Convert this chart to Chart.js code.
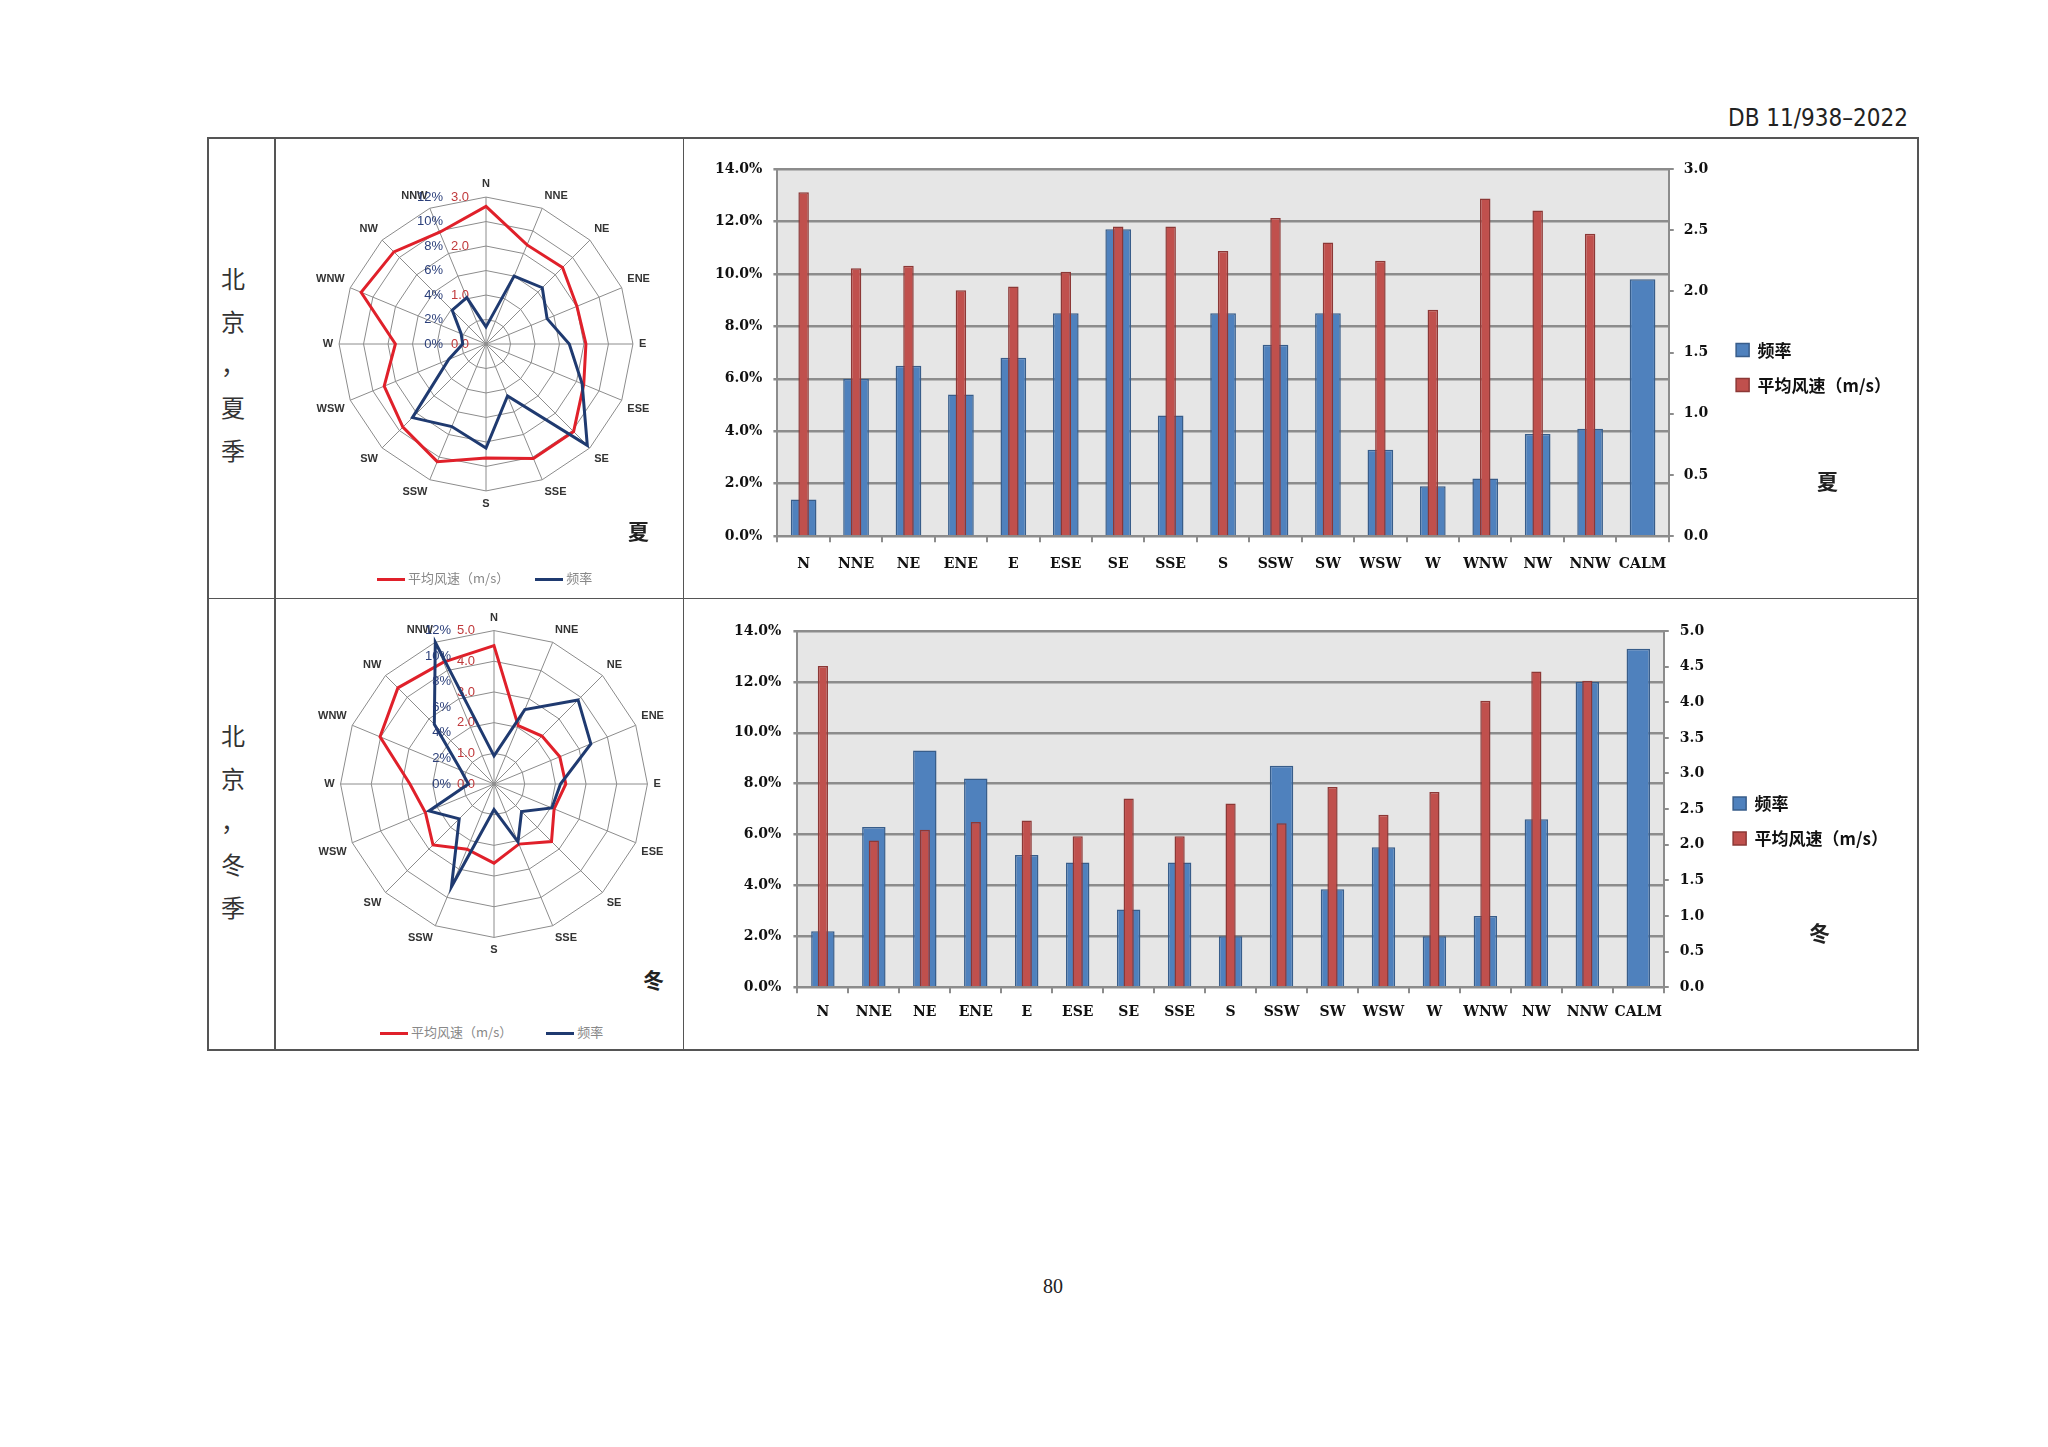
<!DOCTYPE html>
<html>
<head>
<meta charset="utf-8">
<script src="https://cdn.jsdelivr.net/npm/chart.js@4.4.0/dist/chart.umd.min.js"></script>
<style>
  body { margin: 0; width: 2048px; height: 1447px; background: #fff; position: relative; overflow: hidden; }
  .abs { position: absolute; }
  .line { position: absolute; background: #555; }
  .side { position: absolute; width: 30px; text-align: center; font: 24px 'Noto Sans CJK SC'; color: #333; line-height: 43px; }
  .season { position: absolute; font: bold 21px 'Noto Sans CJK SC'; color: #222; }
  .rleg { position: absolute; font: 13px 'Noto Sans CJK SC'; color: #888; white-space: nowrap; }
  .rleg span.sw { display: inline-block; width: 28px; height: 3px; vertical-align: middle; margin-right: 3px; }
</style>
</head>
<body>
<div class="abs" style="right:140px; top:104px; font:24px 'Liberation Sans Narrow','DejaVu Sans Condensed'; color:#222;">DB 11/938–2022</div>

<!-- table frame -->
<div class="line" style="left:207px; top:137px; width:1712px; height:2px;"></div>
<div class="line" style="left:207px; top:1049px; width:1712px; height:2px;"></div>
<div class="line" style="left:207px; top:598px; width:1712px; height:1px;"></div>
<div class="line" style="left:207px; top:137px; width:2px; height:914px;"></div>
<div class="line" style="left:274px; top:137px; width:2px; height:914px;"></div>
<div class="line" style="left:683px; top:137px; width:1px; height:914px;"></div>
<div class="line" style="left:1917px; top:137px; width:2px; height:914px;"></div>

<div class="side" style="left:218px; top:256px;">北<br>京<br>，<br>夏<br>季</div>
<div class="side" style="left:218px; top:713px;">北<br>京<br>，<br>冬<br>季</div>

<canvas id="radarSummerSpeed" class="abs" width="340" height="340" style="left:313px; top:174px;"></canvas>
<canvas id="radarSummerFreq" class="abs" width="340" height="340" style="left:313px; top:174px;"></canvas>
<canvas id="radarWinterSpeed" class="abs" width="352" height="352" style="left:315px; top:608px;"></canvas>
<canvas id="radarWinterFreq" class="abs" width="352" height="352" style="left:315px; top:608px;"></canvas>

<div class="season" style="left:628px; top:515px;">夏</div>
<div class="season" style="left:643px; top:964px;">冬</div>

<div class="rleg" style="left:377px; top:568px;"><span class="sw" style="background:#e0202a"></span>平均风速（m/s）<span class="sw" style="background:#1f3a70; margin-left:26px"></span>频率</div>
<div class="rleg" style="left:380px; top:1022px;"><span class="sw" style="background:#e0202a"></span>平均风速（m/s）<span class="sw" style="background:#1f3a70; margin-left:34px"></span>频率</div>

<canvas id="barSummer" class="abs" width="1230" height="455" style="left:686px; top:140px;"></canvas>
<canvas id="barWinter" class="abs" width="1230" height="446" style="left:686px; top:601px;"></canvas>

<div class="season" style="left:1817px; top:465px;">夏</div>
<div class="season" style="left:1809px; top:917px;">冬</div>

<div class="abs" style="left:1030px; top:1275px; width:46px; text-align:center; font:20px 'Liberation Serif'; color:#222;">80</div>

<script>
// wind directions, CALM only in the bar charts
const directions = ['N', 'NNE', 'NE', 'ENE', 'E', 'ESE', 'SE', 'SSE', 'S', 'SSW', 'SW', 'WSW', 'W', 'WNW', 'NW', 'NNW'];
const barCategories = directions.concat(['CALM']);

// summer: frequency (%) and mean wind speed (m/s)
const summerFreq = [1.4, 6.0, 6.5, 5.4, 6.8, 8.5, 11.7, 4.6, 8.5, 7.3, 8.5, 3.3, 1.9, 2.2, 3.9, 4.1, 9.8];
const summerSpeed = [2.81, 2.19, 2.21, 2.01, 2.04, 2.16, 2.53, 2.53, 2.33, 2.60, 2.40, 2.25, 1.85, 2.76, 2.66, 2.47, null];

// winter
const winterFreq = [2.2, 6.3, 9.3, 8.2, 5.2, 4.9, 3.05, 4.9, 2.0, 8.7, 3.85, 5.5, 2.0, 2.8, 6.6, 12.0, 13.3];
const winterSpeed = [4.51, 2.06, 2.21, 2.32, 2.34, 2.12, 2.65, 2.12, 2.58, 2.30, 2.81, 2.42, 2.74, 4.02, 4.43, 4.30, null];

const freqLabel = '频率';
const speedLabel = '平均风速（m/s）';

const RED_LINE = '#e0202a';
const BLUE_LINE = '#1f3a70';
const GRID = '#8c8c8c';

Chart.defaults.animation = false;
Chart.defaults.responsive = false;
Chart.defaults.devicePixelRatio = 1;

// radar tick labels sit left of the vertical axis, like the original
const tickLabelPlugin = {
    id: 'tickLabels',
    afterDatasetsDraw(chart, args, opts) {
        const s = chart.scales.r;
        const ctx = chart.ctx;
        ctx.save();
        ctx.font = opts.font;
        ctx.fillStyle = opts.color;
        ctx.textAlign = 'right';
        ctx.textBaseline = 'middle';
        s.ticks.forEach(t => {
            if (Math.abs(t.value / opts.every - Math.round(t.value / opts.every)) > 1e-6) return;
            const d = s.getDistanceFromCenterForValue(t.value);
            ctx.fillText(t.value.toFixed(opts.decimals) + opts.suffix, s.xCenter + opts.dx, s.yCenter - d);
        });
        ctx.restore();
    }
};

const plotBgPlugin = {
    id: 'plotBg',
    beforeDraw(chart, args, opts) {
        const a = chart.chartArea;
        const ctx = chart.ctx;
        ctx.save();
        ctx.fillStyle = opts.color;
        ctx.fillRect(a.left, a.top, a.right - a.left, a.bottom - a.top);
        ctx.restore();
    }
};

function createRadar(canvasId, values, color, max, step, showGrid, tickOpts) {
    const ctx = document.getElementById(canvasId).getContext('2d');
    new Chart(ctx, {
        type: 'radar',
        data: {
            labels: directions,
            datasets: [{
                data: values,
                borderColor: color,
                borderWidth: 3,
                pointRadius: 0,
                fill: false,
                tension: 0
            }]
        },
        options: {
            layout: { padding: 0 },
            plugins: {
                legend: { display: false },
                tooltip: { enabled: false },
                tickLabels: tickOpts
            },
            scales: {
                r: {
                    min: 0,
                    max: max,
                    ticks: { stepSize: step, display: false },
                    grid: { display: showGrid, color: GRID, lineWidth: 1 },
                    angleLines: { display: showGrid, color: GRID, lineWidth: 1 },
                    pointLabels: {
                        color: showGrid ? '#333' : 'rgba(0,0,0,0)',
                        padding: 6,
                        font: { family: 'Liberation Sans', size: 11, weight: 'bold' }
                    }
                }
            }
        },
        plugins: [tickLabelPlugin]
    });
}

function createBarChart(canvasId, freq, speed, speedMax, pad, tickPad, barPct, legendShift) {
    const ctx = document.getElementById(canvasId).getContext('2d');
    const axisFont = { family: 'DejaVu Serif', size: 14, weight: 'bold' };
    new Chart(ctx, {
        type: 'bar',
        data: {
            labels: barCategories,
            datasets: [{
                label: freqLabel,
                data: freq,
                yAxisID: 'y',
                order: 1,
                backgroundColor: '#4f81bd',
                borderColor: '#385d8a',
                borderWidth: 1.5,
                barPercentage: barPct,
                categoryPercentage: 1
            }, {
                label: speedLabel,
                data: speed,
                yAxisID: 'y1',
                order: 0,
                backgroundColor: '#c0504d',
                borderColor: '#8c3836',
                borderWidth: 1.5,
                barPercentage: 0.2,
                categoryPercentage: 1
            }]
        },
        options: {
            grouped: false,
            layout: { padding: pad },
            plugins: {
                plotBg: { color: '#e6e6e6' },
                tooltip: { enabled: false },
                legend: {
                    position: 'right',
                    fullSize: false,
                    // empty title only nudges the legend block down a little
                    title: { display: true, text: ' ', font: { size: 10 }, padding: legendShift },
                    labels: {
                        boxWidth: 13,
                        boxHeight: 13,
                        padding: 18,
                        color: '#111',
                        font: { family: 'Noto Sans CJK SC', size: 17, weight: 'bold' },
                        sort: (a, b) => a.datasetIndex - b.datasetIndex
                    }
                }
            },
            scales: {
                x: {
                    grid: { drawOnChartArea: false, color: GRID, lineWidth: 2, tickLength: 6 },
                    border: { color: GRID, width: 2 },
                    ticks: {
                        padding: tickPad.x,
                        color: '#111',
                        autoSkip: false,
                        maxRotation: 0,
                        font: axisFont
                    }
                },
                y: {
                    position: 'left',
                    min: 0,
                    max: 14,
                    grid: { color: GRID, lineWidth: 2.5, tickLength: 4 },
                    border: { color: GRID, width: 2 },
                    ticks: {
                        stepSize: 2,
                        padding: tickPad.y,
                        color: '#111',
                        font: axisFont,
                        callback: v => v.toFixed(1) + '%'
                    }
                },
                y1: {
                    position: 'right',
                    min: 0,
                    max: speedMax,
                    grid: { drawOnChartArea: false, color: GRID, lineWidth: 2, tickLength: 5 },
                    border: { color: GRID, width: 2 },
                    ticks: {
                        stepSize: 0.5,
                        padding: tickPad.y1,
                        color: '#111',
                        font: axisFont,
                        callback: v => v.toFixed(1)
                    }
                }
            }
        },
        plugins: [plotBgPlugin]
    });
}

const freqTicks = { font: '13px Liberation Sans', color: '#2b3f7a', dx: -43, every: 2, decimals: 0, suffix: '%' };

createRadar('radarSummerSpeed', summerSpeed.slice(0, 16), RED_LINE, 3, 0.5, true,
    { font: '13px Liberation Sans', color: '#c0393b', dx: -17, every: 1, decimals: 1, suffix: '' });
createRadar('radarSummerFreq', summerFreq.slice(0, 16), BLUE_LINE, 12, 2, false, freqTicks);
createRadar('radarWinterSpeed', winterSpeed.slice(0, 16), RED_LINE, 5, 1, true,
    { font: '13px Liberation Sans', color: '#c0393b', dx: -19, every: 1, decimals: 1, suffix: '' });
createRadar('radarWinterFreq', winterFreq.slice(0, 16), BLUE_LINE, 12, 2, false, freqTicks);

createBarChart('barSummer', summerFreq, summerSpeed, 3,
    { top: 29, left: 18, bottom: 8, right: 15 }, { x: 14, y: 11, y1: 10 }, 0.49, 9);
createBarChart('barWinter', winterFreq, winterSpeed, 5,
    { top: 30, left: 36, bottom: 15, right: 18 }, { x: 11, y: 12, y1: 11 }, 0.46, 6);
</script>
</body>
</html>
